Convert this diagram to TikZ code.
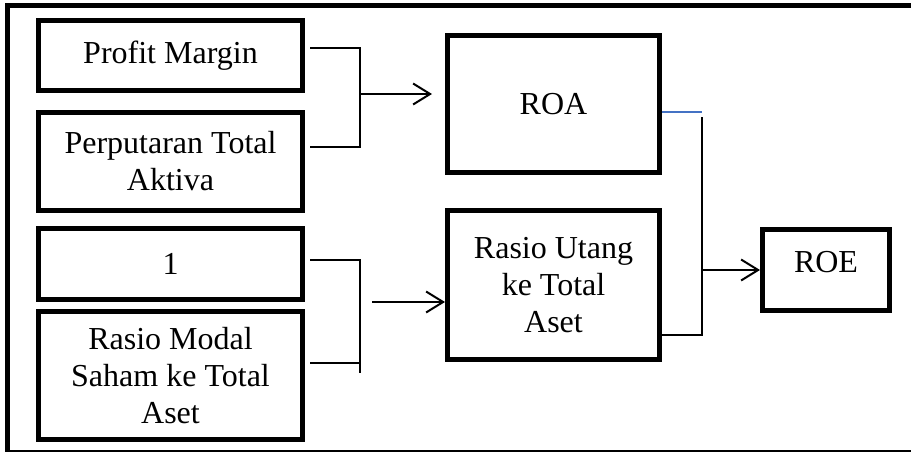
\documentclass[tikz,border=0pt]{standalone}
\usepackage{fontspec}
\setmainfont{Liberation Serif}
\usepackage{xcolor}
\usepackage{tikz}
\usetikzlibrary{arrows.meta}
\definecolor{lineblue}{RGB}{68,114,196}

\begin{document}
\begin{tikzpicture}[x=1pt,y=-1pt,
    box/.style={draw,line width=5pt,align=center,inner sep=0pt,font=\fontsize{32}{37}\selectfont},
    link/.style={line width=2pt},
    arr/.style={line width=2pt,-{Straight Barb[length=17pt,width=21pt,line width=2pt]}}]
    \useasboundingbox (0,0) rectangle (911,453);
    % frame
    \draw[line width=5pt] (911,5.5) -- (7.5,5.5) -- (7.5,451);
    \draw[line width=1.5pt] (5,451) -- (911,451);

    \node[box,minimum width=264pt,minimum height=70pt] (pm) at (170.5,55.5) {Profit Margin};
    \node[box,minimum width=264pt,minimum height=98pt] (pta) at (170.5,161.5) {Perputaran Total\\Aktiva};
    \node[box,minimum width=264pt,minimum height=71pt] (one) at (170.5,264) {1};
    \node[box,minimum width=264pt,minimum height=128pt] (rms) at (170.5,375.5) {Rasio Modal\\Saham ke Total\\Aset};
    \node[box,minimum width=212pt,minimum height=137pt] (roa) at (553.5,104) {ROA};
    \node[box,minimum width=212pt,minimum height=149pt] (rut) at (553.5,285) {Rasio Utang\\ke Total\\Aset};
    \node[box,minimum width=127pt,minimum height=81pt,text depth=16pt] (roe) at (826,270) {ROE};

    \coordinate (ja) at (360,94);
    \coordinate (jb) at (360,373);
    \coordinate (jc) at (372,302);
    \coordinate (jd) at (702,117);

    \draw[link] ([xshift=5pt,yshift=7.5pt]pm.east) -| (ja) |- ([xshift=5pt,yshift=14.5pt]pta.east);
    \draw[arr] (ja) -- ([xshift=-13pt,yshift=10pt]roa.west);

    \draw[link] ([xshift=5pt,yshift=4pt]one.east) -| (jb);
    \draw[link] ([xshift=5pt,yshift=12.5pt]rms.east) -- ++(50,0);
    \draw[arr] (jc) -- (rut.west |- jc);

    \draw[link,lineblue] ([yshift=-8pt]roa.east) -- ++(40,0);
    \draw[link] (jd) |- ([yshift=-50pt]rut.east);
    \draw[arr] (jd |- roe.west) -- (roe.west);
\end{tikzpicture}
\end{document}
